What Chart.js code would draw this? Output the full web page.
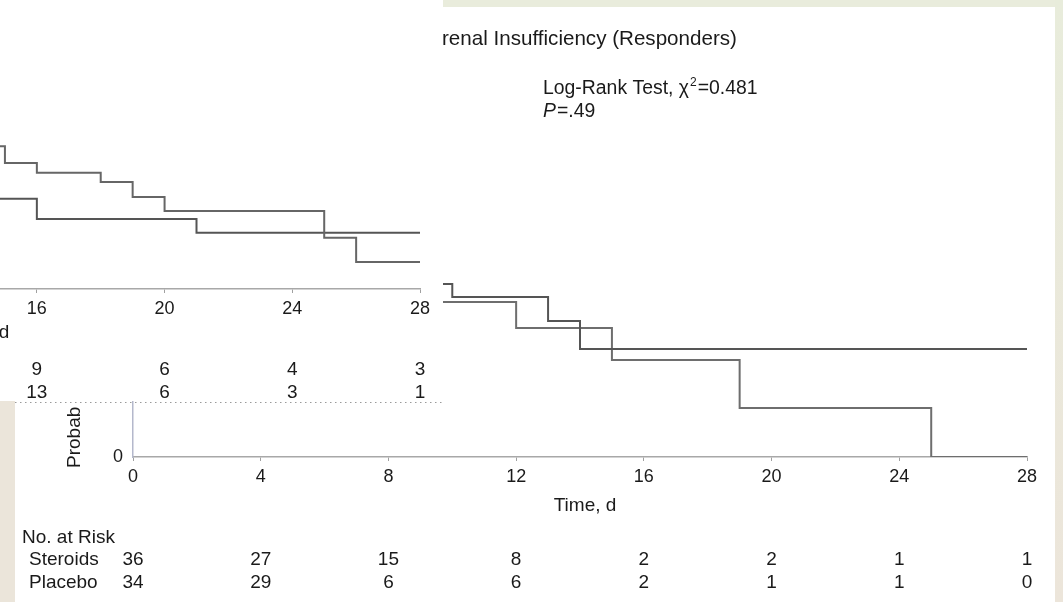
<!DOCTYPE html>
<html>
<head>
<meta charset="utf-8">
<script src="https://cdn.jsdelivr.net/npm/chart.js@4/dist/chart.umd.min.js"></script>
<style>
  html, body { margin: 0; padding: 0; }
  body { width: 1063px; height: 602px; position: relative; overflow: hidden; background: #ebe5da; }
  #atas { position: absolute; left: 0; top: 0; width: 1063px; height: 7px; background: #e9ecdc; }
  #kanan { position: absolute; left: 1055px; top: 0; width: 8px; height: 602px; background: linear-gradient(#e8ecdb, #ece5da); }
  #utama { position: absolute; left: 15px; top: 7px; width: 1040px; height: 595px; background: #fff; }
  #sisipan { position: absolute; left: 0; top: 0; width: 443px; height: 401px; overflow: hidden; background: #fff; }
  #sisipan canvas { position: absolute; left: -592px; top: -161px; }
</style>
</head>
<body>
<div id="atas"></div>
<div id="kanan"></div>
<canvas id="utama" width="1040" height="595"></canvas>
<div id="sisipan"><canvas id="grafikSisipan" width="1040" height="595"></canvas></div>
<script>
// Sumbu waktu (hari)
const hariTicks = [0, 4, 8, 12, 16, 20, 24, 28];

// Grafik utama (Responders) - kurva Kaplan-Meier
const hariSteroid = [9, 10, 13, 14, 28];
const probSteroid = [0.453, 0.419, 0.356, 0.283, 0.283];
const hariPlasebo = [9, 12, 15, 19, 25, 28];
const probPlasebo = [0.406, 0.338, 0.254, 0.128, 0, 0];

// Jumlah pasien berisiko
const risikoSteroid = [36, 27, 15, 8, 2, 2, 1, 1];
const risikoPlasebo = [34, 29, 6, 6, 2, 1, 1, 0];

// Grafik sisipan (kiri atas)
const hariSisipanA = [14, 15, 16, 18, 19, 20, 25, 26, 28];
const probSisipanA = [0.374, 0.33, 0.304, 0.28, 0.241, 0.204, 0.134, 0.071, 0.071];
const hariSisipanB = [14, 16, 21, 28];
const probSisipanB = [0.236, 0.183, 0.147, 0.147];
const hariRisikoSisipan = [16, 20, 24, 28];
const risikoSisipanA = [9, 6, 4, 3];
const risikoSisipanB = [13, 6, 3, 1];

const FONT = '"Liberation Sans", Arial, Helvetica, sans-serif';
const WARNA_TEKS = '#1a1a1a';

// Plugin untuk teks tambahan (judul, tabel risiko, dll)
const teksPlugin = {
  id: 'teks',
  afterDraw(chart, args, opt) {
    const ctx = chart.ctx;
    const area = chart.chartArea;
    const sx = chart.scales.x;
    ctx.save();
    ctx.fillStyle = WARNA_TEKS;
    ctx.textBaseline = 'middle';
    ctx.font = '19px ' + FONT;

    // Judul sumbu x
    ctx.textAlign = 'center';
    ctx.fillText('Time, d', (area.left + area.right) / 2 + 5, area.bottom + 49 + opt.geserWaktu);

    // Tabel jumlah berisiko
    const g = opt.geserRisiko;
    ctx.textAlign = 'left';
    ctx.fillText('No. at Risk', area.left - 111, area.bottom + 81 + g);
    ctx.fillText('Steroids', area.left - 104, area.bottom + 103 + g);
    ctx.fillText('Placebo', area.left - 104, area.bottom + 126 + g);
    ctx.textAlign = 'center';
    opt.hari.forEach((h, i) => {
      const px = sx.getPixelForValue(h);
      ctx.fillText(String(opt.risikoA[i]), px, area.bottom + 103 + g);
      ctx.fillText(String(opt.risikoB[i]), px, area.bottom + 126 + g);
    });

    if (opt.lengkap) {
      // Label sumbu y (terpotong)
      ctx.save();
      ctx.translate(area.left - 58, area.bottom + 11);
      ctx.rotate(-Math.PI / 2);
      ctx.textAlign = 'left';
      ctx.font = '19px ' + FONT;
      ctx.fillText('Probab', 0, 0);
      ctx.restore();

      // Judul grafik (terpotong di kiri)
      ctx.textAlign = 'left';
      ctx.font = '20.6px ' + FONT;
      ctx.fillText('renal Insufficiency (Responders)', area.left + 309, area.top - 36);

      // Log-Rank
      ctx.font = '19.4px ' + FONT;
      let tx = area.left + 410;
      const ty = area.top + 14;
      const bag1 = 'Log-Rank Test, \u03C7';
      ctx.fillText(bag1, tx, ty);
      tx += ctx.measureText(bag1).width;
      ctx.font = '12px ' + FONT;
      ctx.fillText('2', tx + 1, ty - 6);
      tx += ctx.measureText('2').width + 2;
      ctx.font = '19.4px ' + FONT;
      ctx.fillText('=0.481', tx, ty);

      ctx.font = 'italic 19.4px ' + FONT;
      ctx.fillText('P', area.left + 410, area.top + 37);
      const lebarP = ctx.measureText('P').width;
      ctx.font = '19.4px ' + FONT;
      ctx.fillText('=.49', area.left + 410 + lebarP + 1, area.top + 37);

      // Garis titik batas gambar sisipan
      ctx.strokeStyle = '#9a9a9a';
      ctx.lineWidth = 1.2;
      ctx.setLineDash([1.5, 3.5]);
      ctx.beginPath();
      ctx.moveTo(0, 395.5);
      ctx.lineTo(428, 395.5);
      ctx.stroke();
    }
    ctx.restore();
  }
};

function buatKurva(hari, prob, warna) {
  return {
    data: hari.map((h, i) => ({ x: h, y: prob[i] })),
    stepped: true,
    borderColor: warna,
    borderWidth: 2,
    pointRadius: 0,
    fill: false,
  };
}

function buatGrafik(id, datasets, teksOpsi) {
  const ctx = document.getElementById(id).getContext('2d');
  return new Chart(ctx, {
    type: 'line',
    data: { datasets: datasets },
    options: {
      responsive: false,
      animation: false,
      devicePixelRatio: 1,
      layout: { padding: { left: 58, right: 28, top: 68, bottom: 105 } },
      plugins: {
        legend: { display: false },
        tooltip: { enabled: false },
        teks: teksOpsi,
      },
      scales: {
        x: {
          type: 'linear',
          min: 0,
          max: 28,
          afterBuildTicks: (s) => { s.ticks = hariTicks.map((v) => ({ value: v })); },
          afterFit: (s) => { s.height = 40; },
          border: { display: true, color: '#a8a8a8', width: 1.5, dash: [3, 2] },
          grid: { drawOnChartArea: false, drawTicks: true, tickLength: 4, color: '#a0a0a0' },
          ticks: { color: WARNA_TEKS, font: { family: FONT, size: 18 }, padding: 5, maxRotation: 0 },
        },
        y: {
          type: 'linear',
          min: 0,
          max: 1,
          afterFit: (s) => { s.width = 60; },
          border: { display: true, color: '#b4b8cc', width: 1.5, dash: [2, 2] },
          grid: { drawOnChartArea: false, drawTicks: false },
          ticks: {
            stepSize: 0.2,
            color: WARNA_TEKS,
            font: { family: FONT, size: 18 },
            padding: 10,
            callback: (v) => (v === 0 ? '0' : v.toFixed(1)),
          },
        },
      },
    },
    plugins: [teksPlugin],
  });
}

// Grafik utama
buatGrafik('utama', [
  buatKurva(hariSteroid, probSteroid, '#555'),
  buatKurva(hariPlasebo, probPlasebo, '#6e6e6e'),
], {
  lengkap: true,
  geserWaktu: 0,
  geserRisiko: 0,
  hari: hariTicks,
  risikoA: risikoSteroid,
  risikoB: risikoPlasebo,
});

// Grafik sisipan
buatGrafik('grafikSisipan', [
  buatKurva(hariSisipanA, probSisipanA, '#666'),
  buatKurva(hariSisipanB, probSisipanB, '#555'),
], {
  lengkap: false,
  geserWaktu: -5,
  geserRisiko: -22,
  hari: hariRisikoSisipan,
  risikoA: risikoSisipanA,
  risikoB: risikoSisipanB,
});
</script>
</body>
</html>
